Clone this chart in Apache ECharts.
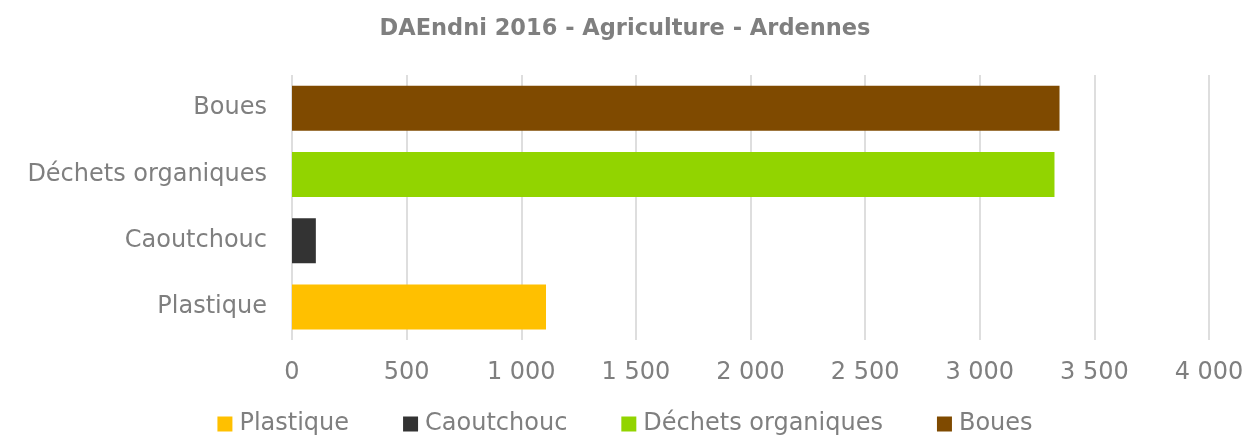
<!DOCTYPE html>
<html>
<head>
<meta charset="utf-8">
<script src="https://cdn.jsdelivr.net/npm/echarts@6/dist/echarts.min.js"></script>
<style>
  html, body { margin: 0; padding: 0; background: #fff; }
  #chart { width: 1250px; height: 444px; }
</style>
</head>
<body>
<div id="chart"></div>
<script>
const categories = ['Plastique', 'Caoutchouc', 'Déchets organiques', 'Boues'];
const values = [1108, 104, 3326, 3348];
const colors = ['#ffc000', '#333333', '#92d400', '#7f4a00'];

const fmt = (v) => String(v).replace(/\B(?=(\d{3})+(?!\d))/g, ' ');
const font = 'DejaVu Sans';

// one series per category so the legend shows each one
const series = categories.map((name, i) => ({
  name: name,
  type: 'bar',
  stack: 'all',
  barWidth: 45,
  itemStyle: { color: colors[i] },
  data: categories.map((c, j) => (j === i ? values[i] : '-'))
}));

const chart = echarts.init(document.getElementById('chart'));
chart.setOption({
  animation: false,
  textStyle: { fontFamily: font },
  title: {
    text: 'DAEndni 2016 - Agriculture - Ardennes',
    left: 'center',
    top: 13,
    textStyle: { fontFamily: font, fontSize: 22.5, fontWeight: 'bold', color: '#7f7f7f' }
  },
  legend: {
    bottom: 3,
    left: 'center',
    itemWidth: 15,
    itemHeight: 15,
    itemGap: 54,
    icon: 'rect',
    textStyle: { fontFamily: font, fontSize: 24, color: '#7f7f7f', padding: [0, 0, 0, 2] },
    data: categories
  },
  grid: { left: 292, right: 41, top: 75, bottom: 104 },
  xAxis: {
    type: 'value',
    min: 0,
    max: 4000,
    interval: 500,
    axisLine: { show: false },
    axisTick: { show: false },
    splitLine: { lineStyle: { color: '#dedede', width: 2 } },
    axisLabel: {
      margin: 21,
      fontFamily: font,
      fontSize: 24,
      color: '#7f7f7f',
      formatter: fmt
    }
  },
  yAxis: {
    type: 'category',
    data: categories,
    axisLine: { show: false },
    axisTick: { show: false },
    axisLabel: { margin: 25, fontFamily: font, fontSize: 24, color: '#7f7f7f' }
  },
  series: series
});
</script>
</body>
</html>
